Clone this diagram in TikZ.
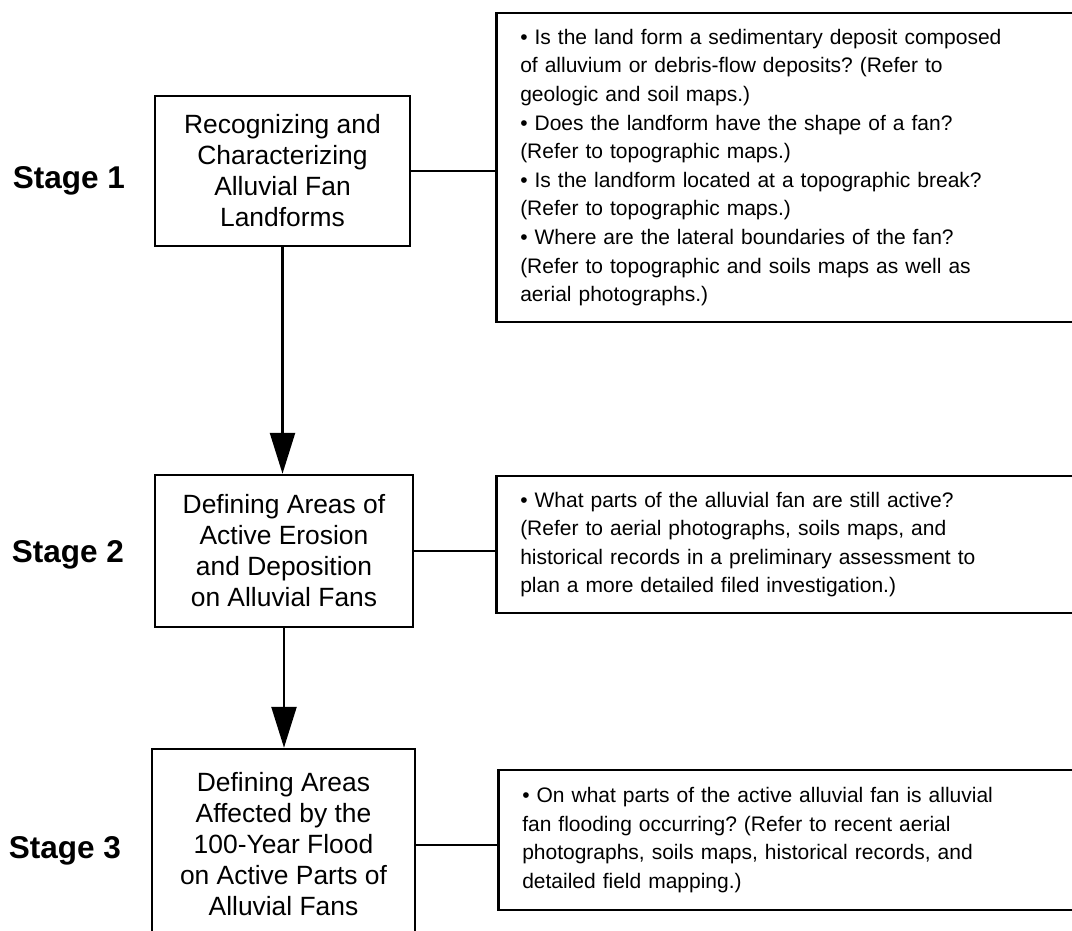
\documentclass[tikz,border=0pt]{standalone}
\usepackage{fontspec}
\setmainfont{Liberation Sans}
\frenchspacing
\usepackage{tikz}
\usetikzlibrary{
  arrows.meta,%
  positioning,%
  calc
}
\tikzset{>=latex}
\tikzset{
  stagelabel/.style={font=\fontsize{31.5}{36}\selectfont\bfseries, inner sep=0pt},
  stagebox/.style={draw, line width=2.5pt, align=center, inner sep=0pt,
    font=\fontsize{26.4}{31}\selectfont},
  notebox/.style={draw, line width=2.5pt, align=left, anchor=west,
    inner xsep=24pt, inner ysep=0pt, text width=570pt,
    font=\fontsize{21}{28.6}\selectfont},
  link/.style={line width=2pt},
  flow/.style={line width=2.5pt, -{Triangle[length=41pt, width=25pt]}}
}

\begin{document}
\begin{tikzpicture}[x=1pt, y=-1pt]
  \useasboundingbox (0,0) rectangle (1072,930);%
  % stage labels
  \node[stagelabel] (stage1) at (69,181) {Stage 1};%
  \node[stagelabel] (stage2) at (68,555) {Stage 2};%
  \node[stagelabel] (stage3) at (65,851) {Stage 3};%
  % main boxes
  \node[stagebox, minimum width=255pt, minimum height=150pt] (recog) at (282.5,171)
    {Recognizing and\\Characterizing\\Alluvial Fan\\Landforms};%
  \node[stagebox, minimum width=258pt, minimum height=152pt] (erosion) at (284,551)
    {Defining Areas of\\Active Erosion\\and Deposition\\on Alluvial Fans};%
  \node[stagebox, minimum width=263pt, minimum height=191pt] (flood) at (283.5,844.5)
    {Defining Areas\\Affected by the\\100-Year Flood\\on Active Parts of\\Alluvial Fans};%
  % question boxes
  \node[notebox, minimum height=309pt] (recognotes) at (495,167.5)
    {• Is the land form a sedimentary deposit composed\\
     of alluvium or debris-flow deposits? (Refer to\\
     geologic and soil maps.)\\
     • Does the landform have the shape of a fan?\\
     (Refer to topographic maps.)\\
     • Is the landform located at a topographic break?\\
     (Refer to topographic maps.)\\
     • Where are the lateral boundaries of the fan?\\
     (Refer to topographic and soils maps as well as\\
     aerial photographs.)};%
  \node[notebox, minimum height=137pt] (erosionnotes) at (495,544.5)
    {• What parts of the alluvial fan are still active?\\
     (Refer to aerial photographs, soils maps, and\\
     historical records in a preliminary assessment to\\
     plan a more detailed filed investigation.)};%
  \node[notebox, minimum height=140pt] (floodnotes) at (497,840)
    {• On what parts of the active alluvial fan is alluvial\\
     fan flooding occurring? (Refer to recent aerial\\
     photographs, soils maps, historical records, and\\
     detailed field mapping.)};%
  % connectors
  \draw[link] (recog.east) -- (recog.east -| recognotes.west);%
  \draw[link] (erosion.east) -- (erosion.east -| erosionnotes.west);%
  \draw[link] (flood.east) -- (flood.east -| floodnotes.west);%
  \draw[flow] (recog.south) -- (recog.south |- erosion.north);%
  \draw[flow] (erosion.south) -- (erosion.south |- flood.north);%
\end{tikzpicture}
\end{document}
